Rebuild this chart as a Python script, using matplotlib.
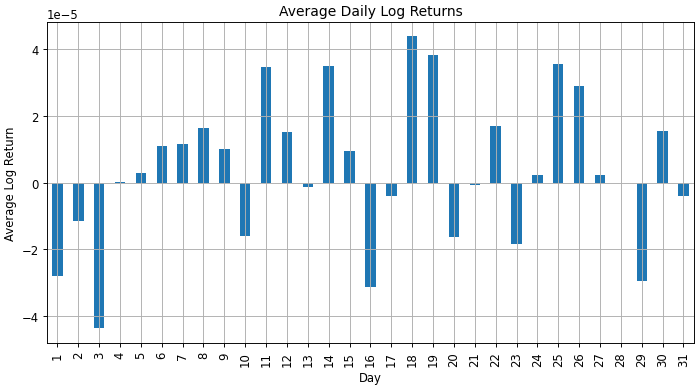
import numpy as np
import pandas as pd
import matplotlib
matplotlib.use("Agg")
import matplotlib.pyplot as plt

days = list(range(1, 32))
avg_log_ret = np.array([
    -2.80, -1.16, -4.36, 0.03, 0.29, 1.11, 1.16, 1.64, 1.01, -1.61,
    3.46, 1.53, -0.14, 3.50, 0.96, -3.12, -0.41, 4.38, 3.83, -1.64,
    -0.08, 1.71, -1.84, 0.24, 3.56, 2.90, 0.24, 0.0, -2.93, 1.56,
    -0.41,
]) * 1e-5

s = pd.Series(avg_log_ret, index=pd.Index(days, name="Day"))

# reference looks like a scaled-down render, so shrink everything via dpi
dpi = 83.5
fig, ax = plt.subplots(figsize=(696 / dpi, 386 / dpi), dpi=dpi)
s.plot(kind="bar", ax=ax, color="#1f77b4")
ax.set_title("Average Daily Log Returns")
ax.set_xlabel("Day")
ax.set_ylabel("Average Log Return")
ax.grid(True)
plt.subplots_adjust(left=0.0675, right=0.997, top=0.941, bottom=0.109)
plt.savefig("out.png", dpi=dpi)
